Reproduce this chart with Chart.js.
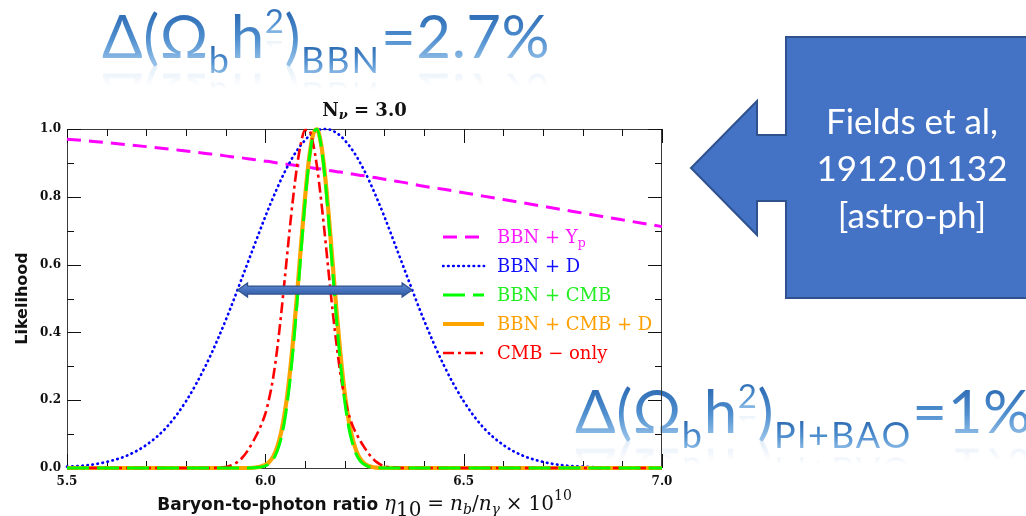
<!DOCTYPE html>
<html>
<head>
<meta charset="utf-8">
<script src="https://cdn.jsdelivr.net/npm/chart.js@4/dist/chart.umd.min.js"></script>
<style>
html,body{margin:0;padding:0;background:#fff;overflow:hidden;width:1026px;height:516px;}
#wrap{position:relative;width:1026px;height:516px;overflow:hidden;}
#c{position:absolute;left:0;top:0;z-index:1;}
.big{position:absolute;z-index:0;font-family:Lato,'Open Sans',sans-serif;font-size:60px;line-height:60px;white-space:nowrap;letter-spacing:0.5px;}
.big .r{display:inline-block;line-height:0.8em;padding:0.12em 0 0.24em 0;
  background:linear-gradient(180deg,#2a65aa 0%,#306fb6 16%,#4f8fcf 50%,#86b6e3 78%,#a9cdee 100%);
  -webkit-background-clip:text;background-clip:text;color:transparent;
  -webkit-box-reflect:below -0.24em linear-gradient(transparent 60%,rgba(255,255,255,0.35));}
.big .s{font-size:36px;vertical-align:-15px;letter-spacing:2px;}
.big .p{font-size:33px;vertical-align:25px;}
#callout{position:absolute;left:0;top:0;z-index:2;}
#callText{position:absolute;z-index:3;left:786px;top:97px;width:252px;text-align:center;color:#fff;
  font-family:Lato,'Open Sans',sans-serif;font-size:35px;line-height:47px;white-space:nowrap;}
#title{position:absolute;z-index:3;left:67px;width:595px;top:101px;text-align:center;
  font-family:'DejaVu Serif',serif;font-weight:bold;font-size:18px;line-height:18px;color:#111;white-space:nowrap;}
#title sub{font-size:0.72em;font-style:italic;vertical-align:-0.25em;line-height:0;}
#xtitle{position:absolute;z-index:3;left:67px;width:595px;top:494px;text-align:center;
  font-family:'DejaVu Sans',sans-serif;font-weight:bold;font-size:17px;line-height:18px;color:#111;white-space:nowrap;}
#xtitle .m{font-family:'DejaVu Serif',serif;font-weight:normal;font-size:20px;}
#xtitle i{font-family:'DejaVu Serif',serif;font-style:italic;font-weight:normal;font-size:20px;}
#xtitle sub i, #xtitle sub .m{font-size:14px;}
#xtitle sub{font-size:14px;vertical-align:-0.3em;line-height:0;font-weight:normal;}
#xtitle sup{font-size:14px;vertical-align:0.7em;line-height:0;}
.legtxt{position:absolute;z-index:3;font-family:'DejaVu Serif',serif;font-size:18px;line-height:18px;white-space:nowrap;word-spacing:0px;}
.legtxt sub{font-size:0.7em;vertical-align:-0.3em;line-height:0;}
.legline{position:absolute;z-index:3;}
</style>
</head>
<body>
<div id="wrap">
  <div class="big" id="bigTop" style="left:102px;top:3px"><span class="r">Δ(Ω</span><span class="r s">b</span><span class="r">h</span><span class="r p">2</span><span class="r">)</span><span class="r s">BBN</span><span class="r">=2.7%</span></div>
  <div class="big" id="bigBot" style="left:575px;top:378px"><span class="r">Δ(Ω</span><span class="r s">b</span><span class="r">h</span><span class="r p">2</span><span class="r">)</span><span class="r s">Pl+BAO</span><span class="r">=1%</span></div>
  <canvas id="c" width="1026" height="516"></canvas>
  <svg id="callout" width="1026" height="516">
    <polygon points="786,37 1032,37 1032,298 786,298 786,201 757,201 757,235 691,168 757,101 757,135 786,135"
      fill="#4472C4" stroke="#2F528F" stroke-width="2" stroke-linejoin="miter"/>
  </svg>
  <div id="callText">Fields et al,<br>1912.01132<br>[astro-ph]</div>
  <div id="title">N<sub>ν</sub> = 3.0</div>
  <div id="xtitle">Baryon-to-photon ratio <i>η</i><sub class="m">10</sub> <span class="m">=</span> <i>n</i><sub><i>b</i></sub><span class="m">/</span><i>n</i><sub><i>γ</i></sub> <span class="m">×</span> <span class="m">10<sup>10</sup></span></div>
  <div id="legend"></div>
</div>
<script>
// ---- data ----
const etaGrid = [5.50,5.55,5.60,5.65,5.70,5.75,5.80,5.85,5.88,5.91,5.94,5.97,6.00,
  6.01,6.02,6.03,6.04,6.05,6.06,6.07,6.08,6.09,6.10,6.11,6.12,6.13,6.14,6.15,6.16,6.17,6.18,6.19,6.20,
  6.21,6.22,6.23,6.24,6.25,6.26,6.27,6.28,
  6.30,6.33,6.36,6.40,6.45,6.50,6.55,6.60,6.65,6.70,6.75,6.80,6.85,6.90,6.95,7.00];

const bbnYp = [0.970,0.965,0.960,0.954,0.948,0.942,0.935,0.928,0.924,0.919,0.915,0.910,0.905,
  0.904,0.902,0.900,0.899,0.897,0.895,0.894,0.892,0.890,0.889,0.887,0.885,0.883,0.882,0.880,0.878,0.876,0.874,0.873,0.871,
  0.869,0.867,0.865,0.863,0.862,0.860,0.858,0.856,
  0.852,0.846,0.840,0.831,0.822,0.812,0.802,0.792,0.782,0.772,0.762,0.752,0.742,0.732,0.722,0.712];

const bbnD = [0.004,0.008,0.018,0.036,0.068,0.119,0.197,0.303,0.380,0.465,0.557,0.650,0.742,
  0.771,0.799,0.826,0.852,0.876,0.898,0.919,0.937,0.953,0.967,0.979,0.988,0.995,0.999,1.000,0.999,0.995,0.988,0.979,0.967,
  0.953,0.937,0.919,0.898,0.876,0.852,0.826,0.799,
  0.742,0.650,0.557,0.436,0.303,0.197,0.119,0.068,0.036,0.018,0.008,0.004,0.0015,0.0006,0.0002,0.0001];

const bbnCmb = [0,0,0,0,0,0,0,0,0,0,0,0.0004,0.006,
  0.013,0.026,0.050,0.089,0.149,0.236,0.350,0.487,0.637,0.783,0.904,0.980,0.999,0.956,0.860,0.726,0.576,0.430,0.301,0.198,
  0.122,0.071,0.039,0.020,0.010,0.004,0.002,0.001,
  0,0,0,0,0,0,0,0,0,0,0,0,0,0,0,0];

const bbnCmbD = [0,0,0,0,0,0,0,0,0,0,0,0.0007,0.009,
  0.018,0.034,0.062,0.106,0.171,0.261,0.377,0.512,0.658,0.796,0.910,0.982,0.999,0.959,0.869,0.743,0.599,0.456,0.328,0.222,
  0.142,0.086,0.049,0.026,0.013,0.006,0.003,0.001,
  0.0002,0,0,0,0,0,0,0,0,0,0,0,0,0,0,0];

const cmbOnly = [0,0,0,0,0,0,0,0,0.001,0.006,0.028,0.080,0.160,
  0.207,0.268,0.352,0.455,0.570,0.688,0.797,0.891,0.959,0.997,0.997,0.959,0.891,0.797,0.688,0.572,0.460,0.360,0.272,0.207,
  0.160,0.125,0.100,0.079,0.060,0.043,0.029,0.018,
  0.005,0.001,0,0,0,0,0,0,0,0,0,0,0,0,0,0];

const xMajorTicks = [5.5, 6.0, 6.5, 7.0];
const yMajorTicks = [0.0, 0.2, 0.4, 0.6, 0.8, 1.0];
const legendLabels = ['BBN + Y<sub>p</sub>', 'BBN + D', 'BBN + CMB', 'BBN + CMB + D', 'CMB − only'];
const arrowSpan = [5.93, 6.37];
const arrowLevel = 0.525;

// ---- styles ----
const styles = [
  {color:'#ff00ff', text:'#ff1aff', width:3,   dash:[14,8],      cap:'butt',  order:5},
  {color:'#0000ff', text:'#1010ff', width:2.7, dash:[0.5,4.6],   cap:'round', order:4},
  {color:'#00ff00', text:'#22ee22', width:3,   dash:[22,8],      cap:'butt',  order:1},
  {color:'#ffa500', text:'#ffa000', width:4.2, dash:[],          cap:'butt',  order:3},
  {color:'#ff0000', text:'#ff0000', width:2.6, dash:[11,4,3,4],  cap:'butt',  order:2}
];
const series = [bbnYp, bbnD, bbnCmb, bbnCmbD, cmbOnly];

const toPts = arr => etaGrid.map((x, i) => ({x: x, y: arr[i]}));
const isMajor = (v, majors) => majors.some(m => Math.abs(m - v) < 1e-6);

const datasets = series.map((s, i) => ({
  label: legendLabels[i].replace(/<[^>]+>/g, ''),
  data: toPts(s),
  borderColor: styles[i].color,
  borderWidth: styles[i].width,
  borderDash: styles[i].dash,
  borderCapStyle: styles[i].cap,
  pointRadius: 0,
  fill: false,
  cubicInterpolationMode: 'monotone',
  clip: false,
  order: styles[i].order
}));

const framePlugin = {
  id: 'frame',
  beforeDatasetsDraw(chart) {
    const {ctx, chartArea: a, scales: {x, y}} = chart;
    ctx.save();
    ctx.strokeStyle = '#3a3a3a';
    ctx.lineWidth = 1;
    ctx.strokeRect(a.left + 0.5, a.top + 0.5, a.right - a.left - 1, a.bottom - a.top);
    ctx.strokeStyle = '#111';
    ctx.beginPath();
    x.ticks.forEach(t => {
      const px = Math.round(x.getPixelForValue(t.value)) + 0.5;
      const len = isMajor(t.value, xMajorTicks) ? 14 : 7;
      ctx.moveTo(px, a.bottom); ctx.lineTo(px, a.bottom - len);
      ctx.moveTo(px, a.top); ctx.lineTo(px, a.top + len);
    });
    y.ticks.forEach(t => {
      const py = Math.round(y.getPixelForValue(t.value)) + 0.5;
      const len = isMajor(t.value, yMajorTicks) ? 14 : 7;
      ctx.moveTo(a.left, py); ctx.lineTo(a.left + len, py);
      ctx.moveTo(a.right, py); ctx.lineTo(a.right - len, py);
    });
    ctx.stroke();
    ctx.restore();
  },
  afterDatasetsDraw(chart) {
    const {ctx, scales: {x, y}} = chart;
    const x1 = x.getPixelForValue(arrowSpan[0]);
    const x2 = x.getPixelForValue(arrowSpan[1]);
    const yy = y.getPixelForValue(arrowLevel);
    const hs = 4, hh = 7, hl = 10;
    ctx.save();
    ctx.beginPath();
    ctx.moveTo(x1, yy);
    ctx.lineTo(x1 + hl, yy - hh); ctx.lineTo(x1 + hl, yy - hs);
    ctx.lineTo(x2 - hl, yy - hs); ctx.lineTo(x2 - hl, yy - hh);
    ctx.lineTo(x2, yy);
    ctx.lineTo(x2 - hl, yy + hh); ctx.lineTo(x2 - hl, yy + hs);
    ctx.lineTo(x1 + hl, yy + hs); ctx.lineTo(x1 + hl, yy + hh);
    ctx.closePath();
    const g = ctx.createLinearGradient(0, yy - hh, 0, yy + hh);
    g.addColorStop(0, '#6d93d3'); g.addColorStop(0.5, '#4470bd'); g.addColorStop(1, '#30589c');
    ctx.fillStyle = g;
    ctx.fill();
    ctx.strokeStyle = '#2f528f';
    ctx.lineWidth = 1.2;
    ctx.stroke();
    ctx.restore();
  }
};

const tickFont = {family: 'DejaVu Serif', weight: 'bold', size: 12};

new Chart(document.getElementById('c'), {
  type: 'line',
  data: {datasets: datasets},
  options: {
    responsive: false,
    animation: false,
    devicePixelRatio: 1,
    layout: {padding: {left: 0, top: 129, right: 364, bottom: 0}},
    plugins: {legend: {display: false}, tooltip: {enabled: false}, title: {display: false}},
    scales: {
      x: {
        type: 'linear', min: 5.5, max: 7.0,
        grid: {display: false, drawTicks: false}, border: {display: false},
        ticks: {stepSize: 0.1, autoSkip: false, maxRotation: 0, padding: 7, color: '#111', font: tickFont,
          callback: v => isMajor(v, xMajorTicks) ? Number(v).toFixed(1) : ''},
        afterFit: s => { s.height = 48; }
      },
      y: {
        type: 'linear', min: 0, max: 1.0,
        grid: {display: false, drawTicks: false}, border: {display: false},
        ticks: {stepSize: 0.1, autoSkip: false, padding: 6, color: '#111', font: tickFont,
          callback: v => isMajor(v, yMajorTicks) ? Number(v).toFixed(1) : ''},
        title: {display: true, text: 'Likelihood', color: '#111',
          font: {family: 'DejaVu Sans', weight: 'bold', size: 16}, padding: {top: 13, bottom: 0}},
        afterFit: s => { s.width = 67; }
      }
    }
  },
  plugins: [framePlugin]
});

// legend (text as HTML, sample lines as SVG)
const legend = document.getElementById('legend');
legendLabels.forEach((lab, i) => {
  const cy = 237 + 29 * i;
  const st = styles[i];
  const svgNS = 'http://www.w3.org/2000/svg';
  const svg = document.createElementNS(svgNS, 'svg');
  svg.setAttribute('width', '44'); svg.setAttribute('height', '12');
  svg.setAttribute('class', 'legline');
  svg.style.left = '442px'; svg.style.top = (cy - 6) + 'px';
  const ln = document.createElementNS(svgNS, 'line');
  ln.setAttribute('x1', '1'); ln.setAttribute('x2', '42');
  ln.setAttribute('y1', '6'); ln.setAttribute('y2', '6');
  ln.setAttribute('stroke', st.color);
  ln.setAttribute('stroke-width', st.width);
  if (st.dash.length) ln.setAttribute('stroke-dasharray', st.dash.join(' '));
  ln.setAttribute('stroke-linecap', st.cap);
  svg.appendChild(ln);
  legend.appendChild(svg);
  const t = document.createElement('div');
  t.className = 'legtxt';
  t.style.left = '497px';
  t.style.top = (cy - 9) + 'px';
  t.style.color = st.text;
  t.innerHTML = lab;
  legend.appendChild(t);
});
</script>
</body>
</html>
